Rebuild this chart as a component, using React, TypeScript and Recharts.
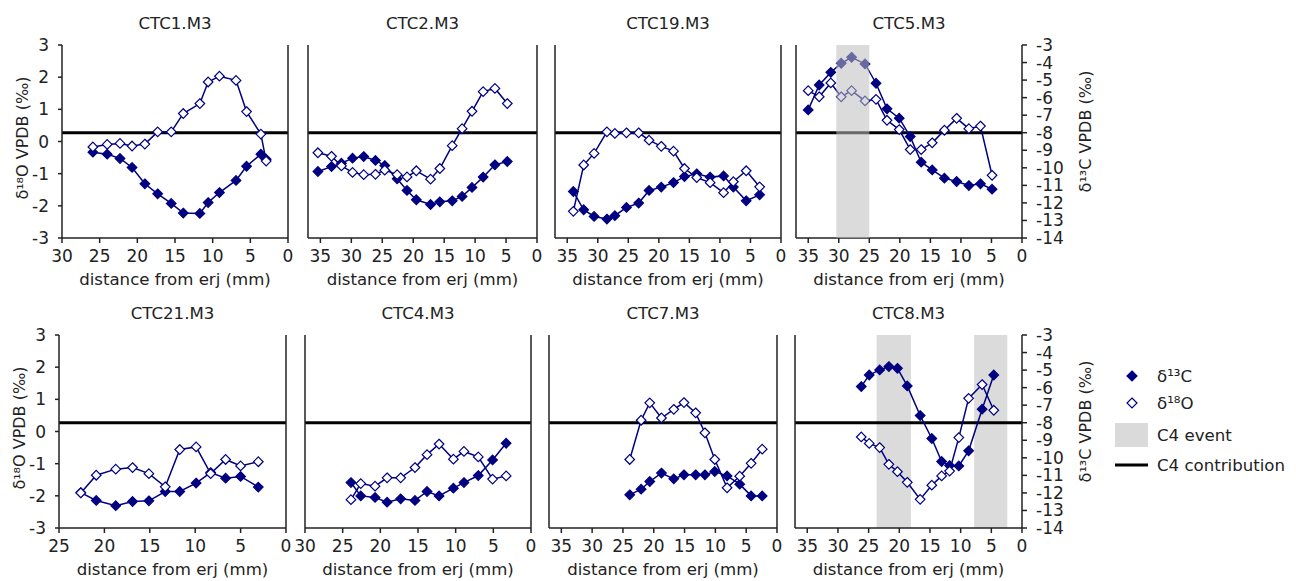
import { ComposedChart, Line, XAxis, YAxis, ReferenceLine, ReferenceArea } from 'recharts';

const NAVY = '#000080';
const INK = '#222';
const FONT = "'DejaVu Sans', Verdana, sans-serif";

// distance from erj (mm), δ13C (‰, right axis), δ18O (‰, left axis)
const ctc1Dist = [25.9, 24.0, 22.3, 20.7, 19.0, 17.3, 15.5, 13.9, 11.7, 10.6, 9.1, 6.9, 5.5, 3.6, 2.9];
const ctc1C = [-9.11, -9.22, -9.47, -9.98, -10.91, -11.48, -12.03, -12.58, -12.6, -11.98, -11.41, -10.72, -9.91, -9.22, -9.51];
const ctc1O = [-0.17, -0.09, -0.06, -0.14, -0.08, 0.3, 0.3, 0.87, 1.18, 1.85, 2.03, 1.9, 0.93, 0.23, -0.61];

const ctc2Dist = [35.4, 33.2, 31.6, 29.8, 28.0, 26.1, 24.6, 22.6, 21.0, 19.5, 17.2, 15.7, 13.7, 12.1, 10.5, 8.7, 6.8, 4.8];
const ctc2C = [-10.21, -9.93, -9.74, -9.45, -9.36, -9.58, -9.87, -10.63, -11.29, -11.82, -12.09, -11.94, -11.88, -11.63, -11.12, -10.53, -9.83, -9.64];
const ctc2O = [-0.35, -0.46, -0.76, -0.96, -1.03, -1.02, -0.89, -1.03, -1.1, -0.91, -1.17, -0.84, -0.13, 0.4, 0.94, 1.55, 1.65, 1.18];

const ctc19Dist = [34.0, 32.3, 30.6, 28.5, 27.2, 25.3, 23.3, 21.6, 19.6, 17.6, 15.8, 13.8, 11.6, 9.4, 7.8, 5.7, 3.5];
const ctc19C = [-11.35, -12.39, -12.77, -12.92, -12.73, -12.26, -12.01, -11.29, -11.1, -10.84, -10.5, -10.34, -10.53, -10.46, -11.1, -11.88, -11.54];
const ctc19O = [-2.17, -0.73, -0.37, 0.3, 0.25, 0.27, 0.27, 0.04, -0.15, -0.3, -0.84, -1.12, -1.28, -1.59, -1.25, -0.91, -1.41];

const ctc5Dist = [35.0, 33.2, 31.3, 29.6, 27.9, 25.7, 23.9, 22.1, 20.1, 18.3, 16.5, 14.7, 12.7, 10.7, 8.7, 6.8, 4.9];
const ctc5C = [-6.7, -5.28, -4.56, -4.04, -3.7, -4.08, -5.18, -6.64, -7.17, -8.22, -9.68, -10.12, -10.59, -10.78, -11.01, -10.91, -11.22];
const ctc5O = [1.58, 1.39, 1.82, 1.39, 1.58, 1.26, 1.31, 0.66, 0.37, -0.25, -0.25, -0.04, 0.35, 0.72, 0.4, 0.48, -1.05];

const ctc21Dist = [22.6, 20.9, 18.75, 16.9, 15.1, 13.3, 11.7, 9.9, 8.3, 6.65, 5.0, 3.05];
const ctc21C = [-11.98, -12.43, -12.73, -12.49, -12.45, -11.92, -11.92, -11.44, -10.84, -11.16, -11.06, -11.67];
const ctc21O = [-1.91, -1.36, -1.17, -1.12, -1.31, -1.72, -0.56, -0.48, -1.31, -0.87, -1.07, -0.94];

const ctc4Dist = [23.9, 22.6, 20.7, 19.1, 17.3, 15.4, 13.8, 12.2, 10.3, 8.9, 7.0, 5.1, 3.3];
const ctc4C = [-11.41, -12.17, -12.26, -12.53, -12.34, -12.43, -11.92, -12.17, -11.73, -11.41, -11.01, -10.12, -9.17];
const ctc4O = [-2.12, -1.62, -1.7, -1.44, -1.44, -1.12, -0.72, -0.39, -0.86, -0.62, -0.79, -1.48, -1.38];

const ctc7Dist = [23.9, 22.05, 20.65, 18.75, 16.75, 15.1, 13.2, 11.7, 10.1, 8.1, 6.05, 4.2, 2.4];
const ctc7C = [-12.11, -11.79, -11.35, -10.87, -11.2, -10.97, -10.97, -10.97, -10.78, -11.03, -11.5, -12.17, -12.17];
const ctc7O = [-0.87, 0.35, 0.89, 0.42, 0.69, 0.9, 0.58, -0.04, -0.87, -1.75, -1.39, -0.99, -0.55];

const ctc8Dist = [26.2, 24.9, 23.2, 21.7, 20.3, 18.7, 16.6, 14.7, 13.1, 11.8, 10.3, 8.7, 6.5, 4.6];
const ctc8C = [-5.94, -5.28, -4.99, -4.8, -4.9, -5.9, -7.59, -8.9, -10.21, -10.44, -10.46, -9.6, -7.23, -5.28];
const ctc8O = [-0.17, -0.37, -0.5, -1.02, -1.25, -1.58, -2.11, -1.67, -1.38, -1.23, -0.19, 1.03, 1.46, 0.66];

// C4 event intervals (mm) and C4 contribution threshold (δ13C ‰)
const ctc5Events: [number, number][] = [[25.0, 30.4]];
const ctc8Events: [number, number][] = [[18.1, 23.7], [2.4, 7.8]];
const c4Contribution = -8;

const oTicks = [-3, -2, -1, 0, 1, 2, 3];
const cTicks = [-3, -4, -5, -6, -7, -8, -9, -10, -11, -12, -13, -14];

interface PanelDef {
  title: string;
  dist: number[];
  c13: number[];
  o18: number[];
  xMax: number;
  events: [number, number][];
  eventsOnTop?: boolean;
  box: [number, number, number, number];
  leftLabels?: boolean;
  rightLabels?: boolean;
}

const panels: PanelDef[] = [
  { title: 'CTC1.M3', dist: ctc1Dist, c13: ctc1C, o18: ctc1O, xMax: 30, events: [], box: [62, 45, 226, 193], leftLabels: true },
  { title: 'CTC2.M3', dist: ctc2Dist, c13: ctc2C, o18: ctc2O, xMax: 37, events: [], box: [308, 45, 229, 193] },
  { title: 'CTC19.M3', dist: ctc19Dist, c13: ctc19C, o18: ctc19O, xMax: 37, events: [], box: [555, 45, 226, 193] },
  { title: 'CTC5.M3', dist: ctc5Dist, c13: ctc5C, o18: ctc5O, xMax: 37, events: ctc5Events, eventsOnTop: true, box: [796, 45, 226, 193], rightLabels: true },
  { title: 'CTC21.M3', dist: ctc21Dist, c13: ctc21C, o18: ctc21O, xMax: 25, events: [], box: [59, 335, 227, 193], leftLabels: true },
  { title: 'CTC4.M3', dist: ctc4Dist, c13: ctc4C, o18: ctc4O, xMax: 30, events: [], box: [305, 335, 226, 193] },
  { title: 'CTC7.M3', dist: ctc7Dist, c13: ctc7C, o18: ctc7O, xMax: 37, events: [], box: [549, 335, 228, 193] },
  { title: 'CTC8.M3', dist: ctc8Dist, c13: ctc8C, o18: ctc8O, xMax: 37, events: ctc8Events, box: [795, 335, 227, 193], rightLabels: true },
];

const axisLine = { stroke: INK, strokeWidth: 1.5 };
const tickFont = { fill: INK, fontSize: 17, fontFamily: FONT };
const L = 70, R = 80, T = 14, XH = 50;

const diamond = (filled: boolean) => (props: any) => {
  const { cx, cy, index } = props;
  if (cx == null || cy == null) return <g key={index} />;
  const r = 4.8;
  return (
    <path
      key={index}
      d={`M${cx},${cy - r}L${cx + r},${cy}L${cx},${cy + r}L${cx - r},${cy}Z`}
      fill={filled ? NAVY : '#fff'}
      stroke={NAVY}
      strokeWidth={1.2}
    />
  );
};

function eventAreas(p: PanelDef) {
  return p.events.map(([a, b], i) => (
    <ReferenceArea
      key={`ev${i}`}
      yAxisId="o"
      x1={a}
      x2={b}
      y1={-3}
      y2={3}
      fill="#bdbdbd"
      fillOpacity={0.55}
      stroke="none"
    />
  ));
}

function Panel({ p }: { p: PanelDef }) {
  const [left, top, w, h] = p.box;
  const data = p.dist.map((d, i) => ({ d, c13: p.c13[i], o18: p.o18[i] }));
  const xTicks = Array.from({ length: Math.floor(p.xMax / 5) + 1 }, (_, i) => i * 5);
  const size = { width: L + w + R, height: T + h + XH };
  const margin = { top: T, right: 0, bottom: 0, left: 0 };
  const pos = { position: 'absolute' as const, left: left - L, top: top - T };
  return (
    <>
      <div style={pos}>
        <ComposedChart {...size} data={data} margin={margin}>
          <XAxis xAxisId="top" orientation="top" type="number" dataKey="d" domain={[0, p.xMax]} reversed height={0} tick={false} tickLine={false} axisLine={axisLine} allowDataOverflow />
          <XAxis
            type="number"
            dataKey="d"
            domain={[0, p.xMax]}
            reversed
            ticks={xTicks}
            interval={0}
            height={XH}
            tickSize={5}
            tickMargin={7}
            tick={tickFont}
            tickLine={axisLine}
            axisLine={axisLine}
            allowDataOverflow
          />
          <YAxis
            yAxisId="o"
            type="number"
            domain={[-3, 3]}
            ticks={oTicks}
            interval={0}
            width={L}
            tickSize={4}
            tickMargin={9}
            tick={p.leftLabels ? tickFont : false}
            tickLine={axisLine}
            axisLine={axisLine}
            allowDataOverflow
          />
          <YAxis
            yAxisId="c"
            orientation="right"
            type="number"
            domain={[-14, -3]}
            ticks={cTicks}
            interval={0}
            width={R}
            tickSize={5}
            tickMargin={9}
            tick={p.rightLabels ? { ...tickFont, textAnchor: 'start' } : false}
            tickLine={axisLine}
            axisLine={axisLine}
            allowDataOverflow
          />
          <ReferenceLine yAxisId="c" y={c4Contribution} stroke="#000" strokeWidth={3} />
          {!p.eventsOnTop && eventAreas(p)}
          <Line yAxisId="c" dataKey="c13" stroke={NAVY} strokeWidth={1.5} dot={diamond(true)} isAnimationActive={false} />
          <Line yAxisId="o" dataKey="o18" stroke={NAVY} strokeWidth={1.5} dot={diamond(false)} isAnimationActive={false} />
        </ComposedChart>
      </div>
      {p.eventsOnTop && (
        // second, transparent chart with the same geometry so the event band lies over the data
        <div style={pos}>
          <ComposedChart {...size} data={data} margin={margin}>
            <XAxis type="number" dataKey="d" domain={[0, p.xMax]} reversed height={XH} tick={false} tickLine={false} axisLine={false} allowDataOverflow />
            <YAxis yAxisId="o" type="number" domain={[-3, 3]} width={L} tick={false} tickLine={false} axisLine={false} allowDataOverflow />
            <YAxis yAxisId="c" orientation="right" type="number" domain={[-14, -3]} width={R} tick={false} tickLine={false} axisLine={false} allowDataOverflow />
            <Line yAxisId="o" dataKey="o18" stroke="none" dot={false} isAnimationActive={false} />
            <Line yAxisId="c" dataKey="c13" stroke="none" dot={false} isAnimationActive={false} />
            {eventAreas(p)}
          </ComposedChart>
        </div>
      )}
    </>
  );
}

function Overlay() {
  return (
    <svg width={1296} height={581} style={{ position: 'absolute', left: 0, top: 0, pointerEvents: 'none' }} fontFamily={FONT} fill={INK}>
      {panels.map((p) => {
        const [left, top, w, h] = p.box;
        const cx = left + w / 2;
        return (
          <g key={p.title}>
            <text x={cx} y={top - 16.5} textAnchor="middle" fontSize={16.6}>{p.title}</text>
            <text x={cx} y={top + h + 47} textAnchor="middle" fontSize={16.6}>distance from erj (mm)</text>
            {p.leftLabels && (
              <text transform={`translate(${left - 40},${top + h / 2 - 3.5}) rotate(-90)`} textAnchor="middle" dominantBaseline="central" fontSize={16}>
                δ¹⁸O VPDB (‰)
              </text>
            )}
            {p.rightLabels && (
              <text transform={`translate(${left + w + 63},${top + h / 2 - 10}) rotate(-90)`} textAnchor="middle" dominantBaseline="central" fontSize={16}>
                δ¹³C VPDB (‰)
              </text>
            )}
          </g>
        );
      })}
      {/* legend */}
      <path d="M1132,371L1137,376L1132,381L1127,376Z" fill={NAVY} stroke={NAVY} strokeWidth={1.2} />
      <text x={1157} y={382} fontSize={16.6}>δ¹³C</text>
      <path d="M1132,398L1137,403L1132,408L1127,403Z" fill="#fff" stroke={NAVY} strokeWidth={1.2} />
      <text x={1157} y={409} fontSize={16.6}>δ¹⁸O</text>
      <rect x={1115} y={423} width={33} height={24} fill="#dadada" />
      <text x={1157} y={441} fontSize={16.6}>C4 event</text>
      <line x1={1115} x2={1148} y1={465} y2={465} stroke="#000" strokeWidth={3} />
      <text x={1157} y={471} fontSize={16.6}>C4 contribution</text>
    </svg>
  );
}

export default function App() {
  return (
    <div style={{ position: 'absolute', left: 0, top: 0, width: 1296, height: 581, background: '#fff', fontFamily: FONT }}>
      {panels.map((p) => (
        <Panel key={p.title} p={p} />
      ))}
      <Overlay />
    </div>
  );
}
